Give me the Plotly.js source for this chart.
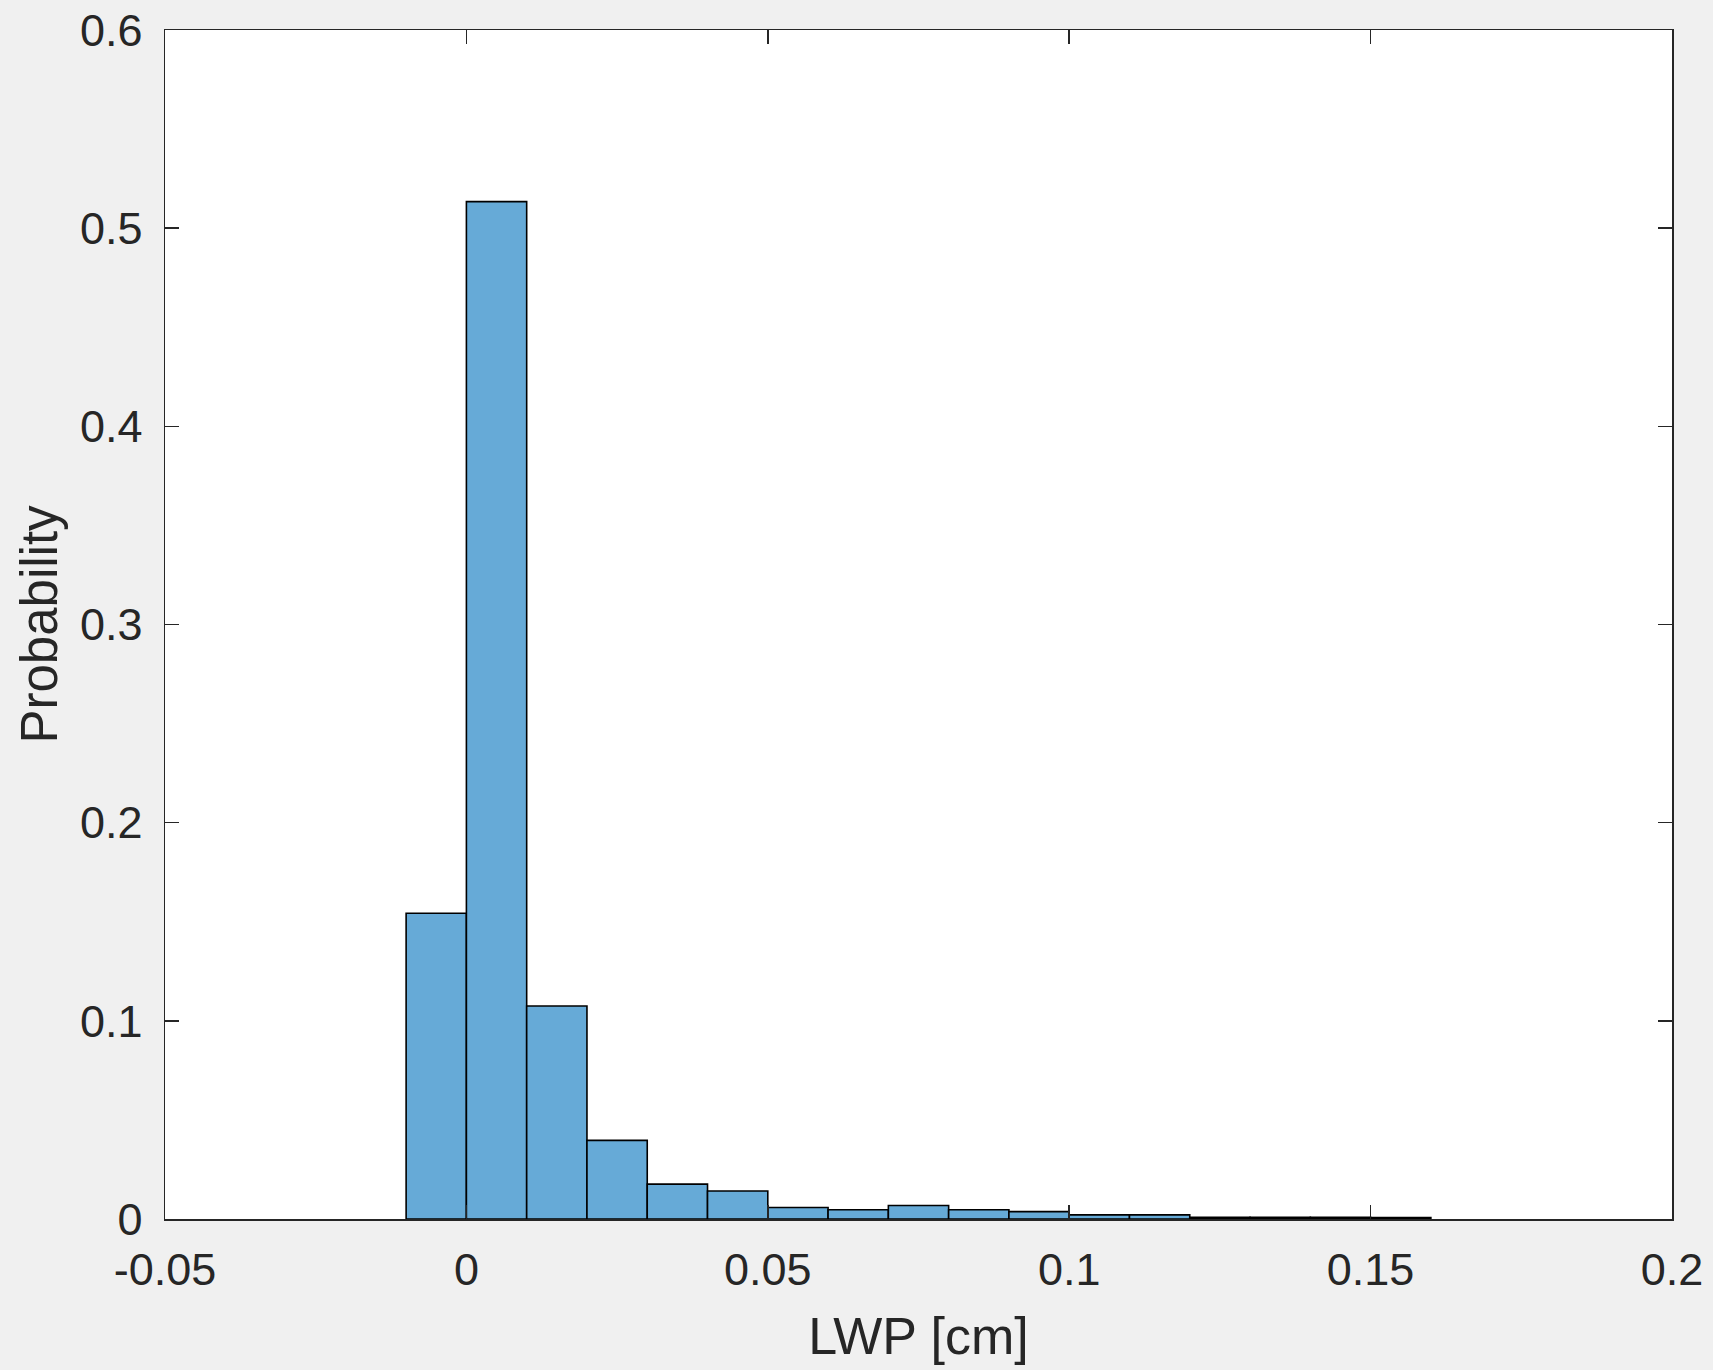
<!DOCTYPE html>
<html>
<head>
<meta charset="utf-8">
<script src="https://cdn.plot.ly/plotly-3.0.1.min.js"></script>
<style>
  html, body { margin: 0; padding: 0; background: #f0f0f0; }
  #chart { width: 1713px; height: 1370px; }
</style>
</head>
<body>
<div id="chart"></div>
<script>
// Histogram bins (left edges, bin width 0.01 cm) and probabilities
const binLeftEdges = [-0.01, 0.00, 0.01, 0.02, 0.03, 0.04, 0.05, 0.06, 0.07, 0.08, 0.09, 0.10, 0.11, 0.12, 0.13, 0.14, 0.15];
const probabilities = [0.1543, 0.5134, 0.1075, 0.0397, 0.0176, 0.0141, 0.0058, 0.0047, 0.0068, 0.0047, 0.0037, 0.0021, 0.0021, 0.0008, 0.0008, 0.0008, 0.0007];
const binWidth = 0.01;
const xTickValues = [-0.05, 0, 0.05, 0.1, 0.15, 0.2];
const xTickLabels = ["-0.05", "0", "0.05", "0.1", "0.15", "0.2"];
const yTickValues = [0, 0.1, 0.2, 0.3, 0.4, 0.5, 0.6];
const yTickLabels = ["0", "0.1", "0.2", "0.3", "0.4", "0.5", "0.6"];
const xTitle = "LWP [cm]";
const yTitle = "Probability";

const textColor = "#262626";
const fontFamily = "'Liberation Sans', Arial, Helvetica, sans-serif";

const trace = {
  type: "bar",
  x: binLeftEdges,
  y: probabilities,
  width: binLeftEdges.map(() => binWidth),
  offset: 0,
  marker: {
    color: "rgb(102,170,215)",
    line: { color: "#000000", width: 1.6 }
  },
  hoverinfo: "x+y"
};

const axisCommon = {
  showline: true,
  linecolor: textColor,
  linewidth: 1.5,
  mirror: "ticks",
  ticks: "inside",
  ticklen: 14,
  tickwidth: 1.5,
  tickcolor: textColor,
  showgrid: false,
  zeroline: false,
  tickfont: { family: fontFamily, size: 45, color: textColor },
  tickmode: "array"
};

const layout = {
  width: 1713,
  height: 1370,
  paper_bgcolor: "#f0f0f0",
  plot_bgcolor: "#ffffff",
  margin: { l: 165, r: 41, t: 30, b: 151, pad: 0 },
  showlegend: false,
  bargap: 0,
  xaxis: Object.assign({}, axisCommon, {
    range: [-0.05, 0.2],
    tickvals: xTickValues,
    ticktext: xTickLabels,
    ticklabelstandoff: 10,
    title: { text: xTitle, font: { family: fontFamily, size: 52, color: textColor }, standoff: 24 }
  }),
  yaxis: Object.assign({}, axisCommon, {
    range: [0, 0.6],
    tickvals: yTickValues,
    ticktext: yTickLabels,
    ticklabelstandoff: 12,
    title: { text: yTitle, font: { family: fontFamily, size: 51, color: textColor }, standoff: 6 }
  })
};

Plotly.newPlot("chart", [trace], layout, { displayModeBar: false, staticPlot: true });
</script>
</body>
</html>
